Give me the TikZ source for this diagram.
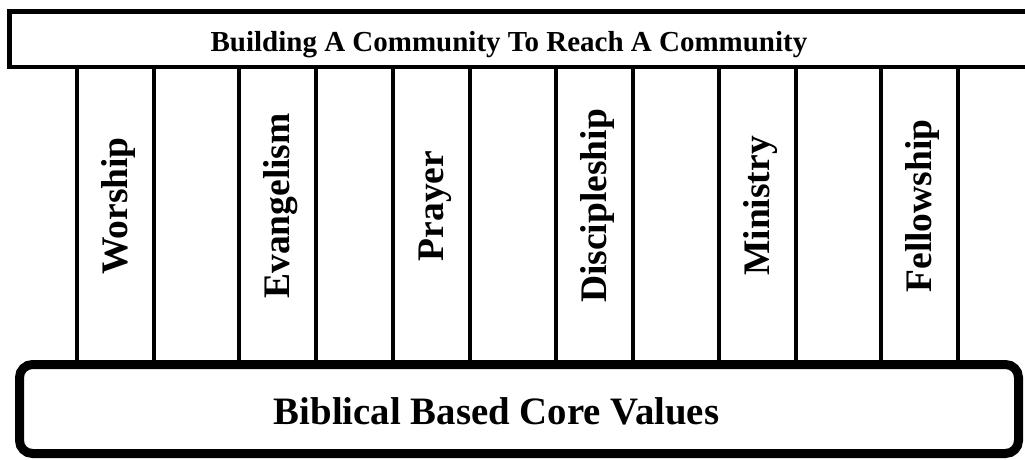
\documentclass[tikz,border=0pt]{standalone}
\usepackage{fontspec}
\setmainfont{Liberation Serif}
\begin{document}
\begin{tikzpicture}[x=1pt,y=-1pt,
  pillar/.style={draw, line width=4pt, minimum width=77pt, minimum height=297pt, inner sep=0pt, outer sep=0pt},
  lbl/.style={font=\bfseries\fontsize{37.5}{40}\selectfont, rotate=90, anchor=base, inner sep=0pt},
  topbox/.style={draw, line width=4.5pt, fill=white},
  basebox/.style={draw, line width=9pt, rounded corners=13pt, fill=white},
  ttl/.style={font=\bfseries\fontsize{29}{32}\selectfont, anchor=base, inner sep=0pt},
  btl/.style={font=\bfseries\fontsize{38.8}{42}\selectfont, anchor=base, inner sep=0pt}]
\useasboundingbox (0,0) rectangle (1025,460);
% pillars
\node[pillar] (p1) at (115,215.5) {};
\node[pillar] (p2) at (277.75,215.5) {};
\node[pillar] (p3) at (431.25,215.5) {};
\node[pillar] (p4) at (594,215.5) {};
\node[pillar] (p5) at (757,215.5) {};
\node[pillar] (p6) at (919.75,215.5) {};
% top beam
\draw[topbox] (9.5,11.5) rectangle (1045,67);
\node[ttl] (title) at (509,52) {Building A Community To Reach A Community};
% base
\draw[basebox] (19.5,364.5) rectangle (1018.5,453.5);
\node[btl] (base) at (496.5,424) {Biblical Based Core Values};
% labels
\node[lbl] (l1) at ([xshift=12pt,yshift=9.5pt]p1.center) {Worship};
\node[lbl] (l2) at ([xshift=12pt,yshift=9.5pt]p2.center) {Evangelism};
\node[lbl] (l3) at ([xshift=12pt,yshift=9.5pt]p3.center) {Prayer};
\node[lbl] (l4) at ([xshift=12pt,yshift=9.5pt]p4.center) {Discipleship};
\node[lbl] (l5) at ([xshift=12pt,yshift=9.5pt]p5.center) {Ministry};
\node[lbl] (l6) at ([xshift=12pt,yshift=9.5pt]p6.center) {Fellowship};
\end{tikzpicture}
\end{document}
